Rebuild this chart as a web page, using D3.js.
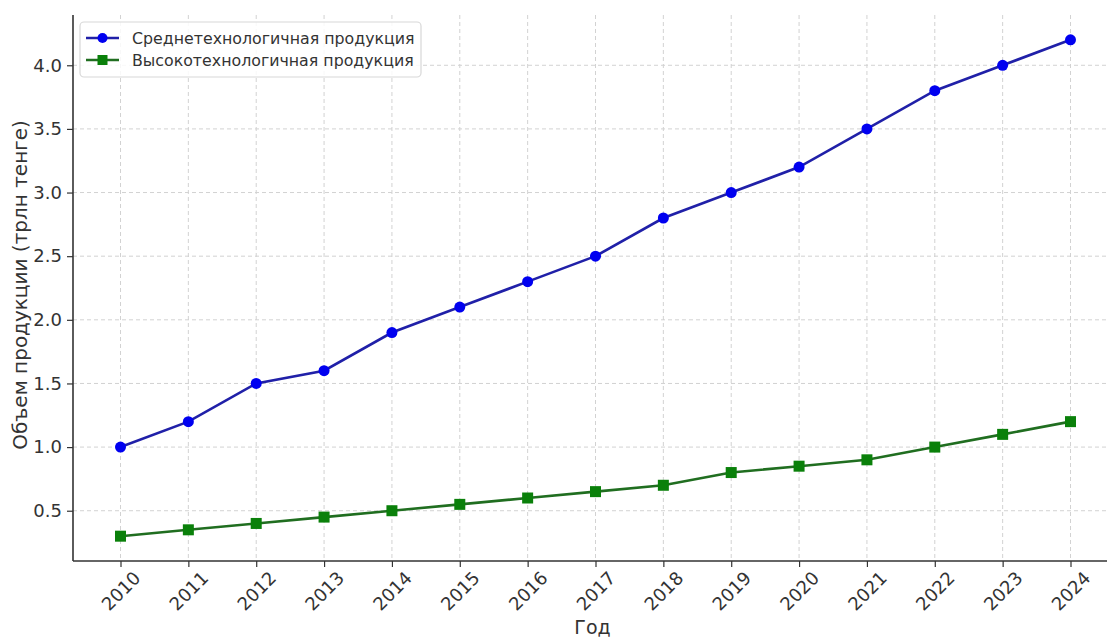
<!DOCTYPE html>
<html><head><meta charset="utf-8">
<script src="https://cdn.jsdelivr.net/npm/d3@7"></script>
<style>body{margin:0;background:#fff;}svg{display:block;font-family:"DejaVu Sans",sans-serif;}</style>
</head><body>
<svg id="c" width="1107" height="637"></svg>
<script>
const years = [2010,2011,2012,2013,2014,2015,2016,2017,2018,2019,2020,2021,2022,2023,2024];
const mediumTech = [1.0,1.2,1.5,1.6,1.9,2.1,2.3,2.5,2.8,3.0,3.2,3.5,3.8,4.0,4.2];
const highTech = [0.3,0.35,0.4,0.45,0.5,0.55,0.6,0.65,0.7,0.8,0.85,0.9,1.0,1.1,1.2];
const yTicks = [0.5,1.0,1.5,2.0,2.5,3.0,3.5,4.0];
const seriesNames = ["Среднетехнологичная продукция","Высокотехнологичная продукция"];

const svg = d3.select("#c");
const L = 73, R = 1118, T = 15, B = 561;
const x = d3.scaleLinear().domain([2009.3, 2024.7]).range([L, R]);
const y = d3.scaleLinear().domain([0.105, 4.395]).range([B, T]);

// grid
const g = svg.append("g");
g.selectAll(".vg").data(years).enter().append("line")
  .attr("x1", d=>x(d)).attr("x2", d=>x(d)).attr("y1", T).attr("y2", B)
  .attr("stroke", "#d2d2d2").attr("stroke-width", 1).attr("stroke-dasharray", "4,3");
g.selectAll(".hg").data(yTicks).enter().append("line")
  .attr("x1", L).attr("x2", R).attr("y1", d=>y(d)).attr("y2", d=>y(d))
  .attr("stroke", "#d2d2d2").attr("stroke-width", 1).attr("stroke-dasharray", "4,3");

// axes
const yAxis = svg.append("g").attr("transform", `translate(${L},0)`)
  .call(d3.axisLeft(y).tickValues(yTicks).tickFormat(d3.format(".1f")).tickSize(6).tickPadding(5));
yAxis.select(".domain").attr("stroke", "#333").attr("stroke-width", 1.6).attr("d", `M0,${T}V${B}`);
yAxis.selectAll(".tick line").attr("stroke", "#333").attr("stroke-width", 1.2);
yAxis.selectAll("text").attr("font-size", 18).attr("fill", "#333").attr("font-family", "DejaVu Sans");

const xAxis = svg.append("g").attr("transform", `translate(0,${B})`)
  .call(d3.axisBottom(x).tickValues(years).tickFormat(d3.format("d")).tickSize(6));
xAxis.select(".domain").attr("stroke", "#333").attr("stroke-width", 1.6).attr("d", `M${L},0H${R}`);
xAxis.selectAll(".tick line").attr("stroke", "#333").attr("stroke-width", 1.2);
xAxis.selectAll("text").attr("font-size", 18).attr("fill", "#333").attr("font-family", "DejaVu Sans")
  .attr("y", 0).attr("dy", "0.35em").attr("text-anchor", "middle")
  .attr("transform", "translate(0,30) rotate(-45)");

// axis labels
svg.append("text").attr("x", (L+R)/2 - 3).attr("y", 634).attr("text-anchor", "middle")
  .attr("font-size", 19).attr("fill", "#333").text("Год");
svg.append("text").attr("transform", `translate(27,285) rotate(-90)`).attr("text-anchor", "middle")
  .attr("font-size", 20).attr("fill", "#333").text("Объем продукции (трлн тенге)");

// lines
const line = d3.line().x(d=>x(d[0])).y(d=>y(d[1]));
const s1 = years.map((yr,i)=>[yr, mediumTech[i]]);
const s2 = years.map((yr,i)=>[yr, highTech[i]]);
const blueLine = "#2020a8", blueMark = "#0000f0";
const greenLine = "#206e20", greenMark = "#0a800a";

svg.append("path").datum(s1).attr("d", line).attr("fill","none").attr("stroke", blueLine).attr("stroke-width", 2.6);
svg.selectAll(".m1").data(s1).enter().append("circle")
  .attr("cx", d=>x(d[0])).attr("cy", d=>y(d[1])).attr("r", 5.5).attr("fill", blueMark);
svg.append("path").datum(s2).attr("d", line).attr("fill","none").attr("stroke", greenLine).attr("stroke-width", 2.6);
svg.selectAll(".m2").data(s2).enter().append("rect")
  .attr("x", d=>x(d[0])-5.5).attr("y", d=>y(d[1])-5.5).attr("width", 11).attr("height", 11).attr("fill", greenMark);

// legend
const lg = svg.append("g");
lg.append("rect").attr("x", 80).attr("y", 22).attr("width", 341).attr("height", 55).attr("rx", 4)
  .attr("fill", "#fff").attr("fill-opacity", 0.85).attr("stroke", "#d8d8d8").attr("stroke-width", 1.2);
const items = [{name: seriesNames[0], c: blueLine, m: blueMark, shape: "circle"},
               {name: seriesNames[1], c: greenLine, m: greenMark, shape: "square"}];
items.forEach((it, i) => {
  const cy = 38 + i*22;
  lg.append("line").attr("x1", 86).attr("x2", 119).attr("y1", cy).attr("y2", cy).attr("stroke", it.c).attr("stroke-width", 2.6);
  if (it.shape === "circle") lg.append("circle").attr("cx", 102.5).attr("cy", cy).attr("r", 5).attr("fill", it.m);
  else lg.append("rect").attr("x", 97.5).attr("y", cy-5).attr("width", 10).attr("height", 10).attr("fill", it.m);
  lg.append("text").attr("x", 132).attr("y", cy).attr("dy", "0.35em").attr("font-size", 15.8).attr("fill", "#333").text(it.name);
});
</script>
</body></html>
